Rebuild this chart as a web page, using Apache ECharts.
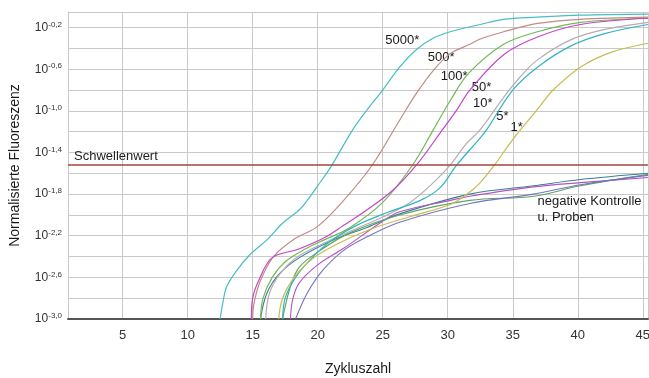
<!DOCTYPE html>
<html>
    <head>
        <meta charset="utf-8">
        <script src="https://cdn.jsdelivr.net/npm/echarts@6/dist/echarts.min.js"></script>
    </head>
    <body>
        <style>
            html, body, #main {
                width: 100%;
                height: 100%;
                margin: 0;
                background: #fff;
            }
        </style>
        <div id="main"></div>
        <script>

            // curves as [cycle, log10(normalized fluorescence)]
            var c5000 = [[12.5,-3.0],[12.7,-2.85],[13.0,-2.69],[13.8,-2.53],[14.8,-2.38],[16.1,-2.24],[17.3,-2.08],[18.6,-1.95],[19.2,-1.86],[20.0,-1.72],[21.0,-1.54],[22.7,-1.18],[23.8,-0.99],[25.0,-0.80],[26.3,-0.58],[27.6,-0.41],[28.9,-0.30],[30.2,-0.24],[32.5,-0.17],[34.3,-0.12],[36.9,-0.10],[40.2,-0.08],[45.4,-0.07]];
            var c500 = [[15.0,-3.0],[15.1,-2.85],[15.6,-2.63],[16.6,-2.40],[18.1,-2.24],[20.0,-2.11],[22.0,-1.86],[24.2,-1.52],[26.3,-1.09],[27.6,-0.83],[28.9,-0.61],[30.2,-0.45],[31.7,-0.36],[32.5,-0.31],[34.3,-0.24],[36.9,-0.16],[40.2,-0.12],[45.4,-0.10]];
            var c100 = [[15.6,-3.0],[15.8,-2.8],[16.5,-2.6],[17.5,-2.45],[19.0,-2.33],[20.5,-2.24],[22.5,-2.12],[25.0,-1.88],[27.3,-1.52],[28.9,-1.18],[30.2,-0.90],[31.6,-0.64],[34.3,-0.36],[36.9,-0.24],[40.2,-0.15],[45.4,-0.11]];
            var c50 = [[14.9,-3.0],[15.0,-2.8],[15.5,-2.62],[16.5,-2.41],[18.5,-2.33],[20.5,-2.22],[22.0,-2.1],[23.8,-1.95],[25.8,-1.76],[27.6,-1.52],[29.6,-1.18],[30.7,-0.99],[31.7,-0.80],[34.3,-0.46],[36.9,-0.29],[40.2,-0.17],[45.4,-0.11]];
            var c10 = [[16.0,-3.0],[16.3,-2.75],[17.2,-2.55],[18.5,-2.4],[20.5,-2.27],[23.0,-2.13],[25.0,-2.02],[27.1,-1.88],[28.9,-1.69],[30.2,-1.52],[31.4,-1.32],[32.5,-1.18],[34.3,-0.87],[35.6,-0.67],[36.9,-0.51],[39.4,-0.32],[42.0,-0.22],[45.4,-0.15]];
            var c5 = [[17.3,-3.0],[17.5,-2.8],[18.3,-2.6],[19.5,-2.42],[21.0,-2.25],[23.0,-2.1],[25.5,-1.97],[27.9,-1.86],[29.4,-1.74],[30.7,-1.52],[32.5,-1.26],[33.0,-1.18],[35.0,-0.80],[36.9,-0.58],[39.4,-0.38],[42.0,-0.26],[45.4,-0.17]];
            var c1 = [[17.0,-3.0],[17.3,-2.8],[18.2,-2.6],[19.5,-2.43],[21.5,-2.28],[24.0,-2.14],[27.0,-2.02],[30.2,-1.90],[31.7,-1.78],[32.5,-1.69],[33.6,-1.52],[34.8,-1.31],[36.0,-1.12],[37.0,-0.97],[38.1,-0.80],[40.2,-0.58],[42.5,-0.44],[45.4,-0.35]];

            // negative controls and samples
            var negTeal = [[15.6,-3.0],[16.1,-2.75],[17.1,-2.56],[18.6,-2.41],[21.2,-2.24],[23.8,-2.12],[26.3,-1.99],[31.7,-1.80],[36.6,-1.72],[40.2,-1.66],[45.4,-1.60]];
            var negMagenta = [[17.9,-3.0],[18.1,-2.8],[18.6,-2.65],[20.0,-2.48],[22.0,-2.32],[25.0,-2.06],[26.3,-1.97],[30.2,-1.86],[31.7,-1.82],[36.6,-1.73],[40.2,-1.69],[45.4,-1.64]];
            var negGreen = [[17.3,-3.0],[17.9,-2.69],[18.6,-2.5],[20.2,-2.34],[22.5,-2.17],[26.3,-2.0],[31.7,-1.86],[36.6,-1.82],[40.2,-1.72],[45.4,-1.61]];
            var negBlue = [[18.3,-3.0],[19.2,-2.75],[20.4,-2.53],[22.0,-2.34],[23.8,-2.21],[26.3,-2.07],[31.7,-1.89],[36.6,-1.80],[40.2,-1.71],[45.4,-1.62]];

            var threshold = -1.52;

            var curveNames = ['5000*', '500*', '100*', '50*', '10*', '5*', '1*'];
            var curveData = [c5000, c500, c100, c50, c10, c5, c1];
            var curveColors = ['#45bfc7', '#c48a86', '#6fba55', '#c544c8', '#b8acb3', '#2fb4c3', '#c8bb4f'];
            var negData = [negTeal, negMagenta, negGreen, negBlue];
            var negColors = ['#3b7f96', '#b454c2', '#5ea45e', '#7474c4'];

            // where the curve names sit (cycle, log10)
            var labelAt = [[26.5,-0.32],[29.5,-0.49],[30.5,-0.67],[32.6,-0.77],[32.7,-0.93],[34.2,-1.05],[35.3,-1.16]];
            var noteAt = [36.9, -1.95];

            var chart = echarts.init(document.getElementById('main'));

            var font = 'Liberation Sans, Arial, sans-serif';
            var series = [];

            function curve(d, color, w) {
                return {
                    type: 'line',
                    data: d,
                    symbol: 'none',
                    smooth: 0.35,
                    silent: true,
                    lineStyle: { color: color, width: w }
                };
            }

            negData.forEach(function (d, i) {
                series.push(curve(d, negColors[i], 1.1));
            });
            curveData.forEach(function (d, i) {
                series.push(curve(d, curveColors[i], 1.2));
            });

            // threshold line
            series.push({
                type: 'line',
                data: [],
                markLine: {
                    silent: true,
                    symbol: 'none',
                    lineStyle: { color: '#a5433f', width: 1.5, type: 'solid' },
                    label: {
                        show: true,
                        position: 'insideStartTop',
                        formatter: 'Schwellenwert',
                        color: '#222',
                        fontFamily: font,
                        fontSize: 13,
                        distance: [6, 2]
                    },
                    data: [{ yAxis: threshold }]
                }
            });

            // curve name labels
            var labelData = labelAt.map(function (p, i) {
                return { value: p, name: curveNames[i] };
            });
            labelData.push({
                value: noteAt,
                name: 'negative Kontrolle\nu. Proben',
                label: { position: 'right', distance: 0, align: 'left' }
            });
            series.push({
                type: 'scatter',
                symbolSize: 0,
                silent: true,
                itemStyle: { opacity: 1 },
                data: labelData,
                label: {
                    show: true,
                    position: 'inside',
                    color: '#1a1a1a',
                    fontFamily: font,
                    fontSize: 13,
                    lineHeight: 16,
                    formatter: function (p) { return p.name; }
                }
            });

            chart.setOption({
                animation: false,
                grid: {
                    left: 68,
                    right: 1,
                    top: 12,
                    bottom: 59,
                    containLabel: false,
                    outerBoundsMode: 'none'
                },
                xAxis: {
                    type: 'value',
                    min: 0.8,
                    max: 45.4,
                    minInterval: 5,
                    maxInterval: 5,
                    name: 'Zykluszahl',
                    nameLocation: 'middle',
                    nameGap: 43,
                    nameTextStyle: { color: '#1a1a1a', fontFamily: font, fontSize: 14 },
                    axisLine: { lineStyle: { color: '#555', width: 2 } },
                    axisTick: { show: false },
                    axisLabel: {
                        color: '#333',
                        fontFamily: font,
                        fontSize: 13,
                        margin: 10,
                        showMinLabel: false,
                        showMaxLabel: false,
                        formatter: function (v) {
                            return Math.abs(v % 5) < 1e-6 ? String(v) : '';
                        }
                    },
                    splitLine: { show: true, lineStyle: { color: '#c9c9c9', width: 1 } }
                },
                yAxis: {
                    type: 'value',
                    min: -3,
                    max: -0.05,
                    interval: 0.2,
                    name: 'Normalisierte Fluoreszenz',
                    nameLocation: 'middle',
                    nameGap: 46,
                    nameTextStyle: { color: '#1a1a1a', fontFamily: font, fontSize: 14 },
                    axisLine: { show: true, lineStyle: { color: '#c9c9c9' } },
                    axisTick: { show: false },
                    axisLabel: {
                        margin: 6,
                        showMaxLabel: false,
                        formatter: function (v) {
                            var k = (v + 3) / 0.4;
                            if (Math.abs(k - Math.round(k)) > 1e-6 || v > -0.15) {
                                return '';
                            }
                            return '{b|10}{s|' + v.toFixed(1).replace('.', ',') + '}';
                        },
                        rich: {
                            b: { fontSize: 12, fontFamily: font, color: '#333', lineHeight: 14 },
                            s: { fontSize: 8, fontFamily: font, color: '#333', verticalAlign: 'top', lineHeight: 14, padding: [0, 0, 5, 0] }
                        }
                    },
                    splitLine: { show: true, lineStyle: { color: '#c9c9c9', width: 1 } }
                },
                series: series
            });

        </script>
    </body>
</html>
